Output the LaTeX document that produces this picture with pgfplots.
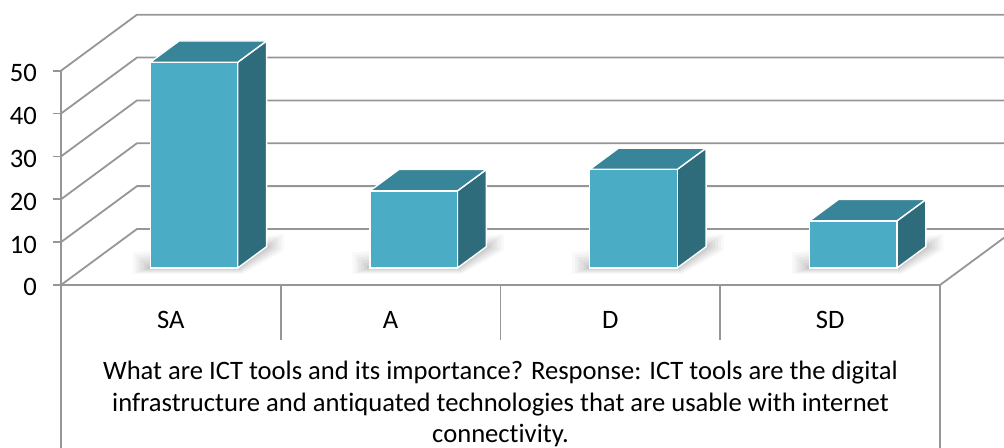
\documentclass[border=0pt]{standalone}
\usepackage{pgfplots}
\pgfplotsset{compat=1.18}
\usepackage{fontspec}
\setmainfont[Ligatures={NoCommon}]{Carlito}
\definecolor{gridc}{RGB}{150,150,150}
\definecolor{barfront}{RGB}{75,172,198}
\definecolor{bartop}{RGB}{56,132,152}
\definecolor{barside}{RGB}{47,108,123}

\newcommand\dX{0.3458}
\newcommand\dY{13.07}
\newcommand\fa{0.304}
\newcommand\fb{0.684}
\newcommand\hw{0.199}

% shadow layer: #1 = x expansion, #2 = y expansion, #3 = opacity
\newcommand\shadowlayer[3]{%
 \pgfmathsetmacro\sxa{\xl-#1}\pgfmathsetmacro\sxb{\xr+0.3*#1}%
 \pgfmathsetmacro\sxc{\xrb+#1}%
 \pgfmathsetmacro\sya{\yf-0.45*#2}\pgfmathsetmacro\syb{\yb-0.3*#2}%
 \pgfmathsetmacro\syc{\yb+#2}\pgfmathsetmacro\syd{\yf+1.2*#2}%
 \edef\tmp{%
  \noexpand\addplot[draw=none, fill=black, fill opacity=#3] coordinates {(\sxa,\sya) (\sxb,\sya) (\sxc,\syb) (\sxc,\syc) (\sxa,\syd)} --cycle;
 }\tmp}

% #1 = category index, #2 = value
\newcommand\cube[2]{%
 \pgfmathsetmacro\xl{#1-\hw+\fa*\dX}%
 \pgfmathsetmacro\xr{#1+\hw+\fa*\dX}%
 \pgfmathsetmacro\xlb{#1-\hw+\fb*\dX}%
 \pgfmathsetmacro\xrb{#1+\hw+\fb*\dX}%
 \pgfmathsetmacro\yf{\fa*\dY}%
 \pgfmathsetmacro\yb{\fb*\dY}%
 \pgfmathsetmacro\yft{#2+\fa*\dY}%
 \pgfmathsetmacro\ybt{#2+\fb*\dY}%
 \shadowlayer{0.080}{3.0}{0.025}%
 \shadowlayer{0.067}{2.5}{0.03}%
 \shadowlayer{0.054}{2.0}{0.035}%
 \shadowlayer{0.041}{1.5}{0.04}%
 \shadowlayer{0.028}{1.0}{0.045}%
 \shadowlayer{0.015}{0.5}{0.05}%
 \edef\tmp{%
  \noexpand\addplot[draw=white, line width=0.7pt, fill=barside] coordinates {(\xr,\yf) (\xrb,\yb) (\xrb,\ybt) (\xr,\yft)} --cycle;
  \noexpand\addplot[draw=white, line width=0.7pt, fill=bartop] coordinates {(\xl,\yft) (\xr,\yft) (\xrb,\ybt) (\xlb,\ybt)} --cycle;
  \noexpand\addplot[draw=white, line width=0.7pt, fill=barfront] coordinates {(\xl,\yf) (\xr,\yf) (\xr,\yft) (\xl,\yft)} --cycle;
 }\tmp}

\begin{document}
\begin{tikzpicture}
\useasboundingbox (0,0) rectangle (502pt,224pt);
\clip (0,0) rectangle (502pt,224pt);
\begin{axis}[
  at={(30.5pt,81.5pt)}, anchor=south west,
  x=109.875pt, y=2.143pt,
  xmin=-0.5, xmax=3.846, ymin=0, ymax=63.07,
  axis x line*=bottom, axis y line*=left,
  axis line style={draw=none},
  clip=false, no markers,
  ytick={0,10,20,30,40,50},
  ytick style={gridc, line width=0.9pt},
  tick align=outside, major tick length=4pt,
  xtick={0,1,2,3}, xticklabels={SA,A,D,SD},
  xtick style={draw=none},
  x tick label style={anchor=base, yshift=-18pt},
  y tick label style={xshift=-4.5pt, yshift=-1.2pt},
  tick label style={font=\fontsize{13.3}{15}\selectfont},
  /pgf/number format/assume math mode=true,
]
% walls and floor
\pgfplotsinvokeforeach{0,10,20,30,40,50}{
  \draw[gridc, line width=0.9pt] (axis cs:-0.5,#1) -- (axis cs:{-0.5+\dX},{#1+\dY}) -- (axis cs:{3.5+\dX},{#1+\dY});
}
\draw[gridc, line width=0.9pt] (axis cs:-0.5,50) -- (axis cs:-0.5,-45);
\draw[gridc, line width=0.9pt] (axis cs:-0.5,0) -- (axis cs:3.5,0) -- (axis cs:{3.5+\dX},{\dY});
\draw[gridc, line width=0.9pt] (axis cs:3.5,0) -- (axis cs:3.5,-45);
\draw[gridc, line width=0.9pt] (axis cs:0.5,0) -- (axis cs:0.5,-12.83);
\draw[gridc, line width=0.9pt] (axis cs:1.5,0) -- (axis cs:1.5,-12.83);
\draw[gridc, line width=0.9pt] (axis cs:2.5,0) -- (axis cs:2.5,-12.83);
% bars
\cube{0}{48}
\cube{1}{18}
\cube{2}{23}
\cube{3}{11}
% outer category label
\node[anchor=base, font=\fontsize{13.3}{15}\selectfont] at (axis cs:1.5,-22.0) {What are ICT tools and its importance? Response: ICT tools are the digital};
\node[anchor=base, font=\fontsize{13.3}{15}\selectfont] at (axis cs:1.5,-29.4) {infrastructure and antiquated technologies that are usable with internet};
\node[anchor=base, font=\fontsize{13.3}{15}\selectfont] at (axis cs:1.5,-36.7) {connectivity.};
\end{axis}
\end{tikzpicture}
\end{document}
